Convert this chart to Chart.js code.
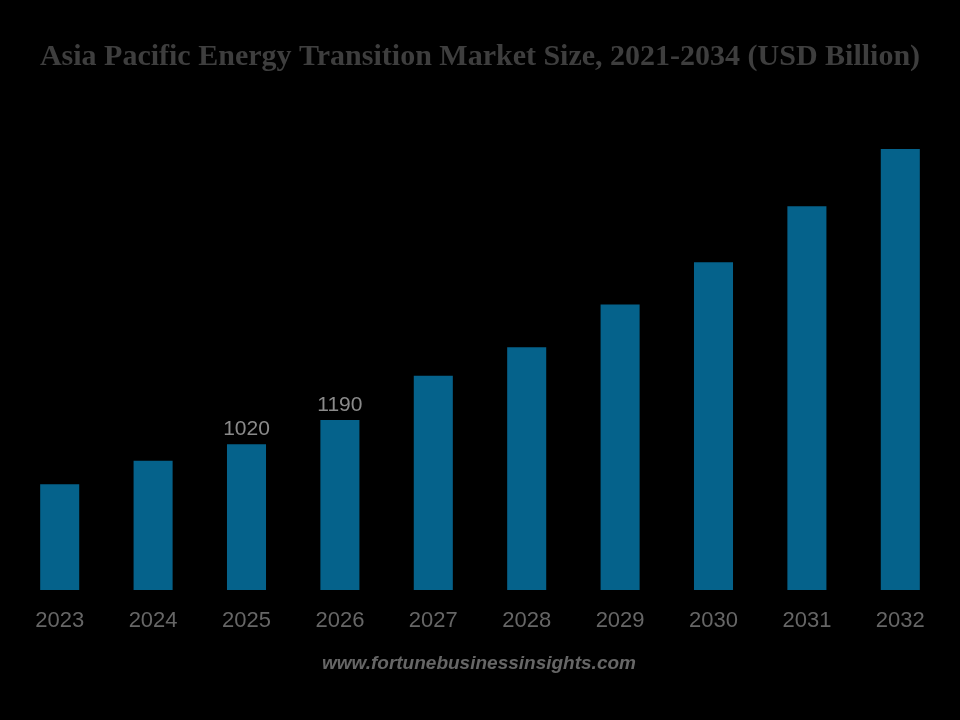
<!DOCTYPE html>
<html>
<head>
<meta charset="utf-8">
<title>Asia Pacific Energy Transition Market Size</title>
<script src="https://cdn.jsdelivr.net/npm/chart.js@4.4.1/dist/chart.umd.min.js"></script>
<style>
  html, body { margin: 0; padding: 0; background: #000; }
  #wrap { width: 960px; height: 720px; position: relative; }
</style>
</head>
<body>
<div id="wrap"><canvas id="marketChart" width="960" height="720"></canvas></div>
<script>
// Data (USD Billion)
const years = ['2023', '2024', '2025', '2026', '2027', '2028', '2029', '2030', '2031', '2032'];
const marketSize = [740, 905, 1020, 1190, 1500, 1700, 2000, 2295, 2687, 3088];
const labelledYears = ['2025', '2026'];
const titleText = 'Asia Pacific Energy Transition Market Size, 2021-2034 (USD Billion)';
const sourceText = 'www.fortunebusinessinsights.com';

// bar value labels + source line
const overlayPlugin = {
    id: 'overlay',
    afterDatasetsDraw(chart) {
        const ctx = chart.ctx;
        const meta = chart.getDatasetMeta(0);
        ctx.save();
        ctx.font = '21px "Liberation Sans", Arial, sans-serif';
        ctx.fillStyle = '#8a8a8a';
        ctx.textAlign = 'center';
        ctx.textBaseline = 'alphabetic';
        meta.data.forEach((bar, i) => {
            if (labelledYears.includes(years[i])) {
                ctx.fillText(String(marketSize[i]), bar.x, bar.y - 9);
            }
        });

        ctx.font = 'italic bold 19px "Liberation Sans", Arial, sans-serif';
        ctx.fillStyle = '#666666';
        ctx.textBaseline = 'middle';
        ctx.fillText(sourceText, 479, 664);
        ctx.restore();
    }
};

const ctx = document.getElementById('marketChart').getContext('2d');

window.marketChart = new Chart(ctx, {
    type: 'bar',
    data: {
        labels: years,
        datasets: [{
            label: 'Market Size',
            data: marketSize,
            backgroundColor: '#05628b',
            borderWidth: 0,
            barPercentage: 1,
            categoryPercentage: 0.418
        }]
    },
    options: {
        responsive: false,
        animation: false,
        layout: {
            padding: { left: 13, right: 13, top: 0, bottom: 50 }
        },
        plugins: {
            legend: { display: false },
            tooltip: { enabled: false },
            title: {
                display: true,
                text: titleText,
                color: '#3e3e3e',
                font: { family: '"Liberation Serif", "Times New Roman", serif', size: 30, weight: 'bold' },
                padding: { top: 39, bottom: 58 }
            }
        },
        scales: {
            x: {
                grid: { display: false, drawTicks: false },
                border: { display: false },
                ticks: {
                    color: '#666666',
                    font: { family: '"Liberation Sans", Arial, sans-serif', size: 22 },
                    padding: 18,
                    maxRotation: 0
                },
                afterFit(scale) { scale.height = 80; }
            },
            y: {
                display: false,
                min: 0,
                max: 3200
            }
        }
    },
    plugins: [overlayPlugin]
});
</script>
</body>
</html>
